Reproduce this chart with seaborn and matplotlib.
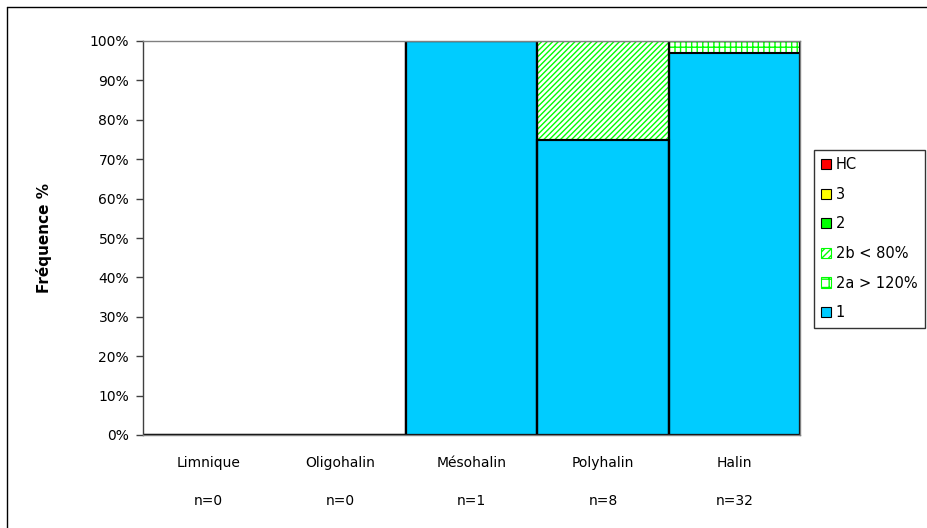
import matplotlib
matplotlib.use("Agg")
import matplotlib.pyplot as plt
from matplotlib.lines import Line2D
from matplotlib.patches import Patch
import numpy as np
import pandas as pd
import seaborn as sns

# Salinity zones and sample counts
zones = ["Limnique", "Oligohalin", "Mésohalin", "Polyhalin", "Halin"]
counts = [0, 0, 1, 8, 32]

# Share of each quality class per zone (%)
class_1 = [0, 0, 100, 75, 96.875]
class_2a = [0, 0, 0, 0, 3.125]
class_2b = [0, 0, 0, 25, 0]
class_2 = [0, 0, 0, 0, 0]
class_3 = [0, 0, 0, 0, 0]
class_hc = [0, 0, 0, 0, 0]

legend_labels = ["HC", "3", "2", "2b < 80%", "2a > 120%", "1"]
yticks = [0, 10, 20, 30, 40, 50, 60, 70, 80, 90, 100]

sns.set_theme(style="white")
plt.rcParams["font.family"] = ["DejaVu Sans"]
plt.rcParams["text.color"] = "black"
plt.rcParams["hatch.linewidth"] = 1.0

W, H = 928, 528
fig = plt.figure(figsize=(W / 100, H / 100), dpi=100)
ax = fig.add_axes([143 / W, 1 - 435 / H, (800 - 143) / W, (435 - 41) / H])

xlabels = [f"{z}\n\nn={n}" for z, n in zip(zones, counts)]
df = pd.DataFrame({"zone": xlabels})

# Cumulative heights, drawn from the top layer down so each sits over the next
c1 = np.array(class_1)
c2a = c1 + np.array(class_2a)
c2b = c2a + np.array(class_2b)
c2 = c2b + np.array(class_2)
c3 = c2 + np.array(class_3)
chc = c3 + np.array(class_hc)

green = "#00FF00"
layers = [
    (chc, "#FF0000", None, "black"),
    (c3, "#FFFF00", None, "black"),
    (c2, green, None, "black"),
    (c2b, "white", "//////", green),
    (c2a, "white", "+++", green),
    (c1, "#00CCFF", None, "black"),
]

for heights, face, hatch, hatch_col in layers:
    d = df.assign(v=heights)
    sns.barplot(data=d, x="zone", y="v", ax=ax, color=face, saturation=1,
                width=1.0, errorbar=None, edgecolor="black", linewidth=1.5)

# Hatched layers: green hatch on the bar, black outline on a separate patch
for idx, (_, _, hatch, hatch_col) in enumerate(layers):
    if hatch is None:
        continue
    for bar in ax.containers[idx]:
        if bar.get_height() <= 0:
            continue
        bar.set_hatch(hatch)
        bar.set_edgecolor(hatch_col)
        bar.set_linewidth(0)
        x, y = bar.get_xy()
        ax.add_patch(plt.Rectangle((x, y), bar.get_width(), bar.get_height(),
                                   fill=False, edgecolor="black", linewidth=1.5,
                                   zorder=bar.get_zorder() + 0.01))

ax.set_xlim(-0.5, len(zones) - 0.5)
ax.set_ylim(0, 100)
ax.set_yticks(yticks)
ax.set_yticklabels([f"{t}%" for t in yticks])
ax.set_xlabel("")
ax.set_ylabel("Fréquence %", fontsize=11, fontweight="bold", labelpad=27,
              color="black")

ax.tick_params(axis="y", which="both", left=True, length=5, width=1,
               color="#404040", labelsize=10, pad=5, labelcolor="black")
ax.tick_params(axis="x", bottom=False, labelsize=10, pad=9, labelcolor="black")
for lab in ax.get_xticklabels():
    lab.set_linespacing(1.45)

for side in ["top", "right", "bottom"]:
    ax.spines[side].set_color("#808080")
    ax.spines[side].set_linewidth(1)
ax.spines["left"].set_color("#404040")
ax.spines["left"].set_linewidth(1)

# Legend
handles = [
    Patch(facecolor="#FF0000", edgecolor="black", linewidth=0.8),
    Patch(facecolor="#FFFF00", edgecolor="black", linewidth=0.8),
    Patch(facecolor=green, edgecolor="black", linewidth=0.8),
    Patch(facecolor="white", edgecolor=green, hatch="/////", linewidth=0.8),
    Patch(facecolor="white", edgecolor=green, hatch="++", linewidth=0.8),
    Patch(facecolor="#00CCFF", edgecolor="black", linewidth=0.8),
]
leg = fig.legend(handles, legend_labels, loc="upper left",
                 bbox_to_anchor=(814 / W, 1 - 150 / H), frameon=True,
                 fancybox=False, edgecolor="black", fontsize=10.5,
                 handlelength=0.7, handleheight=0.7, handletextpad=0.3,
                 labelspacing=1.0, borderpad=0.5, borderaxespad=0)
leg.get_frame().set_linewidth(1)
for t in leg.get_texts():
    t.set_color("black")

# Outer chart frame
fig.add_artist(Line2D([7 / W, 1.0], [1 - 7 / H, 1 - 7 / H], color="black",
                      linewidth=1, transform=fig.transFigure))
fig.add_artist(Line2D([7 / W, 7 / W], [0, 1 - 7 / H], color="black",
                      linewidth=1, transform=fig.transFigure))

fig.savefig("out.png", dpi=100, facecolor="white")
